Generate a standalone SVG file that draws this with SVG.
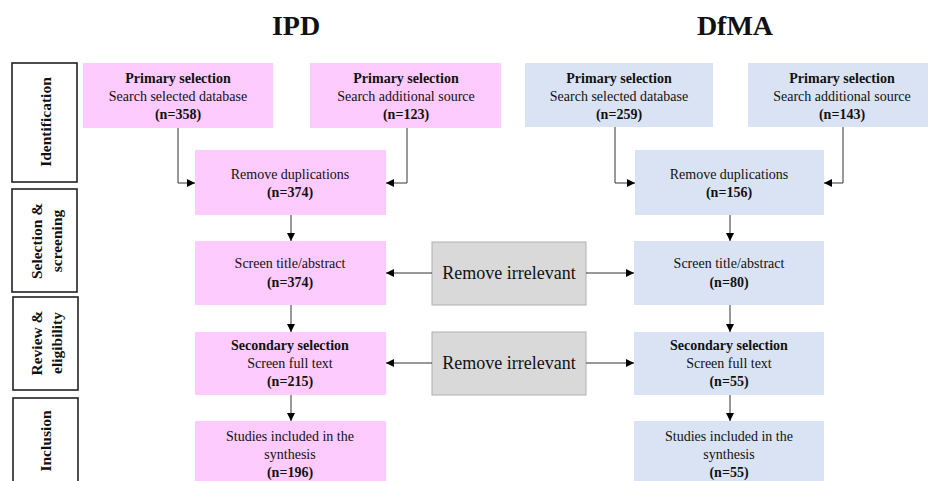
<svg xmlns="http://www.w3.org/2000/svg" width="930" height="481" viewBox="0 0 930 481">
<defs>
<style>
text{font-family:"Liberation Serif","Times New Roman",serif;fill:#111;}
.t{font-size:14px;text-anchor:middle;}
.b{font-weight:bold;}
.h{font-size:28px;font-weight:bold;text-anchor:middle;}
.lab{font-size:15.5px;font-weight:bold;text-anchor:middle;}
.ri{font-size:18px;text-anchor:middle;}
.pink{fill:#fdcbfd;}
.blue{fill:#dae3f3;}
.gray{fill:#d9d9d9;stroke:#b0b0b0;stroke-width:1;}
.side{fill:#fff;stroke:#222;stroke-width:1.6;}
.c{fill:none;stroke:#333;stroke-width:1;marker-end:url(#ah);}
</style>
<marker id="ah" viewBox="0 0 10 10" refX="10" refY="5" markerWidth="8" markerHeight="8" markerUnits="userSpaceOnUse" orient="auto">
<path d="M0,0 L10,5 L0,10 z" fill="#000"/>
</marker>
</defs>
<rect width="930" height="481" fill="#fff"/>

<text class="h" x="296" y="35">IPD</text>
<text class="h" x="735" y="35">DfMA</text>

<g id="stage-identification">
<rect class="side" x="12" y="63" width="65" height="119"/>
<text class="lab" transform="translate(51,122) rotate(-90)">Identification</text>
</g>
<g id="stage-selection">
<rect class="side" x="12" y="189" width="65" height="103"/>
<text class="lab" transform="translate(42,241) rotate(-90)">Selection &amp;</text>
<text class="lab" transform="translate(62,241) rotate(-90)">screening</text>
</g>
<g id="stage-review">
<rect class="side" x="13" y="297" width="65" height="93"/>
<text class="lab" transform="translate(42,343) rotate(-90)">Review &amp;</text>
<text class="lab" transform="translate(62,343) rotate(-90)">eligibility</text>
</g>
<g id="stage-inclusion">
<rect class="side" x="13" y="398" width="65" height="90"/>
<text class="lab" transform="translate(51,441) rotate(-90)">Inclusion</text>
</g>

<g id="ipd-primary-db">
<rect class="pink" x="83" y="63" width="190" height="65"/>
<text class="t b" x="178" y="83">Primary selection</text>
<text class="t" x="178" y="101">Search selected database</text>
<text class="t b" x="178" y="119">(n=358)</text>
</g>
<g id="ipd-primary-add">
<rect class="pink" x="310" y="63" width="191" height="65"/>
<text class="t b" x="406" y="83">Primary selection</text>
<text class="t" x="406" y="101">Search additional source</text>
<text class="t b" x="406" y="119">(n=123)</text>
</g>
<g id="ipd-dup">
<rect class="pink" x="195" y="150" width="191" height="65"/>
<text class="t" x="290" y="179">Remove duplications</text>
<text class="t b" x="290" y="197">(n=374)</text>
</g>
<g id="ipd-screen">
<rect class="pink" x="195" y="241" width="191" height="64"/>
<text class="t" x="290" y="268">Screen title/abstract</text>
<text class="t b" x="290" y="287">(n=374)</text>
</g>
<g id="ipd-secondary">
<rect class="pink" x="195" y="332" width="191" height="63"/>
<text class="t b" x="290" y="350">Secondary selection</text>
<text class="t" x="290" y="368">Screen full text</text>
<text class="t b" x="290" y="386">(n=215)</text>
</g>
<g id="ipd-included">
<rect class="pink" x="195" y="421" width="191" height="65"/>
<text class="t" x="290" y="441">Studies included in the</text>
<text class="t" x="290" y="459">synthesis</text>
<text class="t b" x="290" y="477">(n=196)</text>
</g>

<g id="irrelevant-1">
<rect class="gray" x="432" y="242" width="154" height="63"/>
<text class="ri" x="509" y="279">Remove irrelevant</text>
</g>
<g id="irrelevant-2">
<rect class="gray" x="432" y="332" width="154" height="63"/>
<text class="ri" x="509" y="369">Remove irrelevant</text>
</g>

<g id="dfma-primary-db">
<rect class="blue" x="525" y="63" width="188" height="64"/>
<text class="t b" x="619" y="83">Primary selection</text>
<text class="t" x="619" y="101">Search selected database</text>
<text class="t b" x="619" y="119">(n=259)</text>
</g>
<g id="dfma-primary-add">
<rect class="blue" x="748" y="63" width="180" height="64"/>
<text class="t b" x="842" y="83">Primary selection</text>
<text class="t" x="842" y="101">Search additional source</text>
<text class="t b" x="842" y="119">(n=143)</text>
</g>
<g id="dfma-dup">
<rect class="blue" x="635" y="150" width="189" height="65"/>
<text class="t" x="729" y="179">Remove duplications</text>
<text class="t b" x="729" y="197">(n=156)</text>
</g>
<g id="dfma-screen">
<rect class="blue" x="634" y="241" width="190" height="64"/>
<text class="t" x="729" y="268">Screen title/abstract</text>
<text class="t b" x="729" y="287">(n=80)</text>
</g>
<g id="dfma-secondary">
<rect class="blue" x="634" y="332" width="190" height="63"/>
<text class="t b" x="729" y="350">Secondary selection</text>
<text class="t" x="729" y="368">Screen full text</text>
<text class="t b" x="729" y="386">(n=55)</text>
</g>
<g id="dfma-included">
<rect class="blue" x="634" y="421" width="190" height="65"/>
<text class="t" x="729" y="441">Studies included in the</text>
<text class="t" x="729" y="459">synthesis</text>
<text class="t b" x="729" y="477">(n=55)</text>
</g>

<g id="connectors">
<path class="c" d="M178,128 V183 H195"/>
<path class="c" d="M407,128 V183 H386"/>
<path class="c" d="M291,215 V241"/>
<path class="c" d="M291,305 V332"/>
<path class="c" d="M291,395 V421"/>
<path class="c" d="M432,273 H386"/>
<path class="c" d="M432,363 H386"/>
<path class="c" d="M586,273 H634"/>
<path class="c" d="M586,363 H634"/>
<path class="c" d="M615,127 V183 H635"/>
<path class="c" d="M843,127 V183 H824"/>
<path class="c" d="M730,215 V241"/>
<path class="c" d="M730,305 V332"/>
<path class="c" d="M730,395 V421"/>
</g>
</svg>
